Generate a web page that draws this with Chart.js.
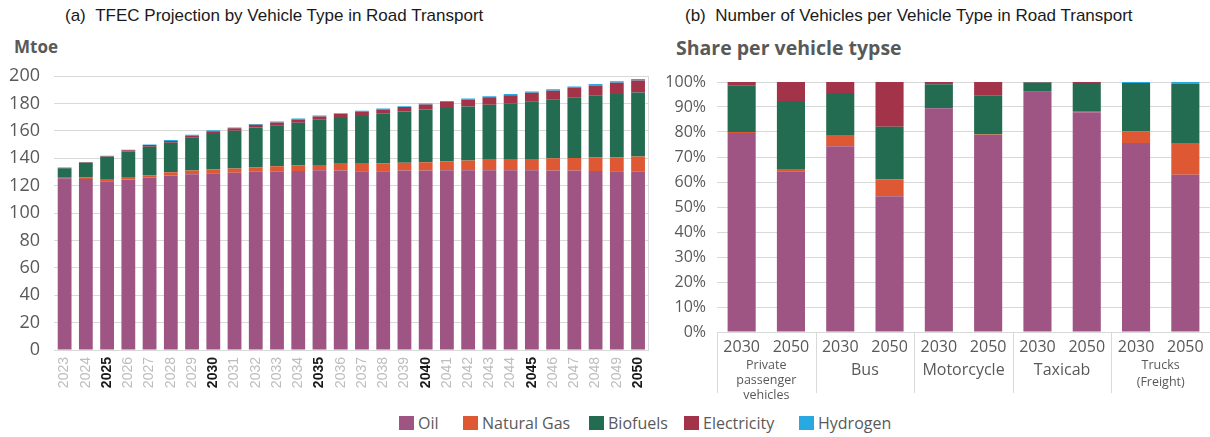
<!DOCTYPE html>
<html>
<head>
<meta charset="utf-8">
<script src="https://cdn.jsdelivr.net/npm/chart.js@4.4.1/dist/chart.umd.min.js"></script>
<style>
  html, body { margin: 0; padding: 0; background: #fff; }
  body { width: 1210px; height: 437px; position: relative; overflow: hidden; font-family: "Open Sans", sans-serif; }
  .txt { position: absolute; white-space: nowrap; }
  #titleA { left: 65px; top: 6px; font: 17px "Liberation Sans", Arial, sans-serif; color: #1a1a1a; }
  #titleB { left: 685px; top: 6px; font: 17px "Liberation Sans", Arial, sans-serif; color: #1a1a1a; }
  #unitA { left: 14px; top: 35px; font: bold 17px "Open Sans", sans-serif; color: #595959; }
  #subB { left: 676px; top: 34px; font: bold 19.5px "Open Sans", sans-serif; color: #595959; }
  canvas { position: absolute; }
  #chartA { left: 0; top: 60px; }
  #chartB { left: 662px; top: 60px; }
  #legend { position: absolute; left: 0; top: 412px; width: 1210px; height: 22px; }
  .item { position: absolute; top: 0; display: flex; align-items: center; font: 16px "Open Sans", sans-serif; color: #595959; }
  .box { width: 15px; height: 14px; margin-right: 4px; }
</style>
</head>
<body>
<div class="txt" id="titleA">(a)&nbsp;&nbsp;TFEC Projection by Vehicle Type in Road Transport</div>
<div class="txt" id="titleB">(b)&nbsp;&nbsp;Number of Vehicles per Vehicle Type in Road Transport</div>
<div class="txt" id="unitA">Mtoe</div>
<div class="txt" id="subB">Share per vehicle typse</div>
<canvas id="chartA" width="662" height="345"></canvas>
<canvas id="chartB" width="548" height="345"></canvas>
<div id="legend"></div>

<script>
// ---- Panel (a): final energy consumption in road transport, Mtoe ----
const years = [2023, 2024, 2025, 2026, 2027, 2028, 2029, 2030, 2031, 2032, 2033, 2034, 2035, 2036,
               2037, 2038, 2039, 2040, 2041, 2042, 2043, 2044, 2045, 2046, 2047, 2048, 2049, 2050];
const oilMtoe = [125.4, 124.9, 123.2, 124.4, 125.9, 127.3, 128.3, 129.0, 129.3, 130.2, 130.2, 130.7, 131.2, 131.0,
                 130.5, 130.5, 131.0, 131.0, 131.2, 131.2, 131.2, 131.2, 131.2, 131.0, 131.0, 130.7, 130.5, 130.2];
const gasMtoe = [0.9, 1.0, 1.7, 1.9, 1.7, 2.5, 2.7, 2.7, 3.1, 3.2, 3.9, 3.9, 3.9, 4.9,
                 5.4, 5.6, 5.6, 6.1, 6.6, 7.1, 7.6, 8.3, 8.3, 9.0, 9.2, 10.0, 10.2, 11.0];
const bioMtoe = [6.4, 10.7, 16.1, 18.6, 20.7, 21.4, 23.9, 25.9, 27.6, 29.0, 30.0, 31.3, 32.9, 33.4,
                 34.9, 36.3, 37.4, 38.5, 38.8, 39.4, 40.2, 40.7, 42.0, 43.0, 44.2, 44.9, 46.1, 46.8];
const elecMtoe = [0.3, 0.4, 0.4, 0.9, 1.3, 1.3, 1.5, 2.0, 1.8, 2.0, 2.0, 2.4, 2.5, 2.9,
                  3.2, 3.1, 3.3, 3.6, 4.4, 5.0, 5.4, 5.8, 6.2, 6.3, 6.9, 7.5, 8.2, 8.8];
const h2Mtoe = [0.3, 0.3, 0.3, 0.3, 0.4, 0.8, 0.8, 0.8, 0.6, 0.6, 0.6, 0.6, 0.6, 0.6,
                0.6, 0.7, 0.7, 0.8, 0.8, 0.8, 0.8, 0.9, 0.9, 1.0, 1.0, 1.1, 1.1, 1.1];
const mtoeTicks = [0, 20, 40, 60, 80, 100, 120, 140, 160, 180, 200];

// ---- Panel (b): share of vehicles by fuel, per vehicle type ----
const vehicleTypes = [["Private", "passenger", "vehicles"], ["Bus"], ["Motorcycle"], ["Taxicab"], ["Trucks", "(Freight)"]];
const snapshotYears = ["2030", "2050"];
const oilShare  = [79.6, 64.3, 74.3, 54.3, 89.5, 78.8, 96.0, 87.9, 75.6, 62.9];
const gasShare  = [0.4, 0.9, 4.5, 6.8, 0.0, 0.2, 0.4, 0.5, 4.7, 12.4];
const bioShare  = [18.5, 27.2, 16.8, 21.0, 9.6, 15.7, 3.4, 11.2, 19.3, 23.9];
const elecShare = [1.5, 7.6, 4.4, 17.9, 0.9, 5.3, 0.2, 0.4, 0.0, 0.0];
const h2Share   = [0.0, 0.0, 0.0, 0.0, 0.0, 0.0, 0.0, 0.0, 0.4, 0.8];
const shareTicks = [0, 10, 20, 30, 40, 50, 60, 70, 80, 90, 100];

const fuels = ["Oil", "Natural Gas", "Biofuels", "Electricity", "Hydrogen"];
const fuelColors = ["#9e5584", "#dd5833", "#236c52", "#a33348", "#29a9e1"];

const GRID = "#d9d9d9";
const TICK_GREY = "#595959";

// legend placement along the bottom row
const legendLeft = [399, 463, 589, 684, 799];
const legend = document.getElementById("legend");
fuels.forEach((name, i) => {
  const el = document.createElement("div");
  el.className = "item";
  el.style.left = legendLeft[i] + "px";
  el.innerHTML = '<span class="box" style="background:' + fuelColors[i] + '"></span><span>' + name + '</span>';
  legend.appendChild(el);
});

// right-hand frame line of panel (a)
const frameRight = {
  id: "frameRight",
  afterDatasetsDraw(chart) {
    const a = chart.chartArea, c = chart.ctx;
    c.save();
    c.strokeStyle = GRID;
    c.lineWidth = 1;
    c.beginPath();
    c.moveTo(Math.round(a.right) - 0.5, a.top);
    c.lineTo(Math.round(a.right) - 0.5, a.bottom);
    c.stroke();
    c.restore();
  }
};

const seriesA = [oilMtoe, gasMtoe, bioMtoe, elecMtoe, h2Mtoe];
new Chart(document.getElementById("chartA"), {
  type: "bar",
  data: {
    labels: years.map(String),
    datasets: fuels.map((f, i) => ({
      label: f,
      data: seriesA[i],
      backgroundColor: fuelColors[i],
      borderWidth: 0,
      categoryPercentage: 1.0,
      barPercentage: 0.65
    }))
  },
  options: {
    responsive: false,
    animation: false,
    devicePixelRatio: 1,
    layout: { padding: { top: 16, right: 8, left: 0, bottom: 0 } },
    plugins: { legend: { display: false }, tooltip: { enabled: false }, title: { display: false } },
    scales: {
      x: {
        stacked: true,
        grid: { display: false, drawTicks: false },
        border: { color: GRID, width: 1 },
        ticks: {
          autoSkip: false,
          minRotation: 90,
          maxRotation: 90,
          padding: 7,
          font: (ctx) => ({ family: "Liberation Sans", size: 14, weight: years[ctx.index] % 5 === 0 ? "bold" : "normal" }),
          color: (ctx) => years[ctx.index] % 5 === 0 ? "#1a1a1a" : "#bdbdbd"
        },
        afterFit: (s) => { s.height = 55; }
      },
      y: {
        stacked: true,
        min: 0,
        max: 200,
        afterBuildTicks: (s) => { s.ticks = mtoeTicks.map(v => ({ value: v })); },
        grid: { color: GRID, lineWidth: 1, drawTicks: false },
        border: { display: false },
        ticks: { font: { family: "Open Sans", size: 18 }, color: TICK_GREY, padding: 14 },
        afterFit: (s) => { s.width = 54; s.paddingTop = 8; s.paddingBottom = 8; }
      }
    }
  },
  plugins: [frameRight]
});

// two-level category axis of panel (b): vehicle type under each pair of years
const groupAxis = {
  id: "groupAxis",
  afterDraw(chart) {
    const x = chart.scales.x, a = chart.chartArea, c = chart.ctx;
    const per = snapshotYears.length;
    c.save();
    c.strokeStyle = GRID;
    c.lineWidth = 1;
    for (let g = 0; g <= vehicleTypes.length; g++) {
      let px;
      if (g === 0) px = a.left;
      else if (g === vehicleTypes.length) px = a.right;
      else px = (x.getPixelForValue(g * per - 1) + x.getPixelForValue(g * per)) / 2;
      px = Math.round(px) + 0.5;
      c.beginPath();
      c.moveTo(px, a.bottom);
      c.lineTo(px, a.bottom + 61);
      c.stroke();
    }
    c.fillStyle = TICK_GREY;
    c.textAlign = "center";
    c.textBaseline = "middle";
    vehicleTypes.forEach((lines, g) => {
      const cx = (x.getPixelForValue(g * per) + x.getPixelForValue(g * per + per - 1)) / 2;
      if (lines.length === 1) {
        c.font = "16px 'Open Sans'";
        c.fillText(lines[0], cx, a.bottom + 38);
      } else {
        c.font = "12.5px 'Open Sans'";
        const step = lines.length === 3 ? 15 : 17;
        lines.forEach((t, k) => c.fillText(t, cx, a.bottom + 33 + k * step));
      }
    });
    c.restore();
  }
};

const seriesB = [oilShare, gasShare, bioShare, elecShare, h2Share];
const barLabelsB = [];
vehicleTypes.forEach(() => snapshotYears.forEach(y => barLabelsB.push(y)));

new Chart(document.getElementById("chartB"), {
  type: "bar",
  data: {
    labels: barLabelsB,
    datasets: fuels.map((f, i) => ({
      label: f,
      data: seriesB[i],
      backgroundColor: fuelColors[i],
      borderWidth: 0,
      categoryPercentage: 1.0,
      barPercentage: 0.57
    }))
  },
  options: {
    responsive: false,
    animation: false,
    devicePixelRatio: 1,
    layout: { padding: { top: 22, right: 0, left: 0, bottom: 0 } },
    plugins: { legend: { display: false }, tooltip: { enabled: false }, title: { display: false } },
    scales: {
      x: {
        stacked: true,
        grid: { display: false, drawTicks: false },
        border: { color: GRID, width: 1 },
        ticks: { autoSkip: false, maxRotation: 0, padding: 6, font: { family: "Open Sans", size: 16 }, color: TICK_GREY },
        afterFit: (s) => { s.height = 73; }
      },
      y: {
        stacked: true,
        min: 0,
        max: 100,
        afterBuildTicks: (s) => { s.ticks = shareTicks.map(v => ({ value: v })); },
        grid: { color: GRID, lineWidth: 1, drawTicks: false },
        border: { display: false },
        ticks: { font: { family: "Open Sans", size: 16 }, color: TICK_GREY, padding: 11, callback: (v) => v + "%" },
        afterFit: (s) => { s.width = 55; s.paddingTop = 8; s.paddingBottom = 8; }
      }
    }
  },
  plugins: [groupAxis]
});
</script>
</body>
</html>
